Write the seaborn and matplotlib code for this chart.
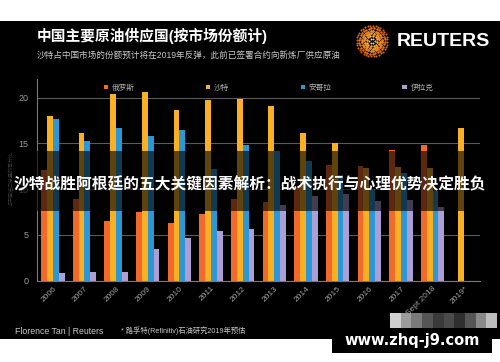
import numpy as np
import pandas as pd
import matplotlib
matplotlib.use("Agg")
import matplotlib.pyplot as plt
import seaborn as sns
from matplotlib.patches import Rectangle, Patch

# ---------------- data ----------------
years = ['2006', '2007', '2008', '2009', '2010', '2011', '2012', '2013',
         '2014', '2015', '2016', '2017', 'Sept 2018', '2019*']
russia = [12.1, 8.9, 6.5, 7.5, 6.3, 7.3, 8.9, 8.6, 10.2, 12.6, 12.5, 14.3, 14.8, np.nan]
saudi = [18.0, 16.1, 20.4, 20.6, 18.7, 19.8, 19.9, 19.05, 16.1, 15.0, 12.3, 12.4, 12.3, 16.7]
angola = [17.7, 15.3, 16.7, 15.8, 16.5, 12.2, 14.8, 14.2, 13.1, 11.5, 10.0, 11.8, 9.8, np.nan]
iraq = [0.85, 0.9, 1.0, 3.5, 4.7, 5.4, 5.7, 8.3, 9.3, 9.5, 8.7, 8.8, 8.1, np.nan]
countries = ['俄罗斯', '沙特', '安哥拉', '伊拉克']
colors = ['#F26A2B', '#FBAF22', '#2B98D6', '#AE9ED6']
yticks = [0, 5, 10, 15, 20]

title = '中国主要原油供应国(按市场份额计)'
subtitle = '沙特占中国市场的份额预计将在2019年反弹，此前已签署合约向新炼厂供应原油'
overlay_text = '沙特战胜阿根廷的五大关键因素解析：战术执行与心理优势决定胜负'
ylabel = '占中国进口总量的百分比'
source = 'Florence Tan | Reuters'
note = '* 路孚特(Refinitiv)石油研究2019年预估'
watermark = 'www.zhq-j9.com'

rows = []
for c, vals in zip(countries, [russia, saudi, angola, iraq]):
    for y, v in zip(years, vals):
        rows.append({'year': y, 'country': c, 'share': v})
df = pd.DataFrame(rows)

# ---------------- style ----------------
sns.set_theme(style='dark')
plt.rcParams['font.family'] = ['Liberation Sans', 'Noto Sans CJK SC', 'DejaVu Sans']
plt.rcParams['axes.unicode_minus'] = False

W, H = 500, 362
fig = plt.figure(figsize=(W / 100, H / 100), dpi=100, facecolor='white')

def fx(px):
    return px / W

def fy(py):
    return 1 - py / H

# black chart background
fig.add_artist(Rectangle((0, fy(339)), 1, fy(21) - fy(339), transform=fig.transFigure,
                         facecolor='black', edgecolor='none', zorder=-10))

ax = fig.add_axes([fx(37), fy(280.7), fx(480) - fx(37), fy(79.4) - fy(280.7)])
ax.set_facecolor('black')

sns.barplot(data=df, x='year', y='share', hue='country', order=years,
            hue_order=countries, palette=colors, width=0.74, gap=0,
            saturation=1, ax=ax, legend=False, linewidth=0)

ax.set_ylim(0, 22)
ax.set_xlim(-0.5, len(years) - 0.5)
ax.set_yticks(yticks)
ax.set_yticklabels([str(t) for t in yticks], color='#9a9a9a', fontsize=6.5)
ax.tick_params(axis='y', length=0, pad=6)
ax.yaxis.grid(True, color='#5a5a5a', linewidth=0.8)
ax.xaxis.grid(False)
ax.set_axisbelow(True)
ax.set_xlabel('')
ax.set_ylabel('')
ax.set_xticks(range(len(years)))
ax.set_xticklabels(years, rotation=45, ha='right', rotation_mode='anchor',
                   color='#a0a0a0', fontsize=6)
ax.tick_params(axis='x', length=0, pad=3)
ax.set_xticks(np.arange(-0.5, len(years), 1), minor=True)
ax.tick_params(axis='x', which='minor', length=3, color='#777777', width=0.6)
for s in ['top', 'right']:
    ax.spines[s].set_visible(False)
for s in ['left', 'bottom']:
    ax.spines[s].set_visible(True)
    ax.spines[s].set_color('#7a7a7a')
    ax.spines[s].set_linewidth(0.8)

# legend
handles = [Patch(facecolor=c, edgecolor='none') for c in colors]
leg = ax.legend(handles, countries, ncol=4, loc='center left',
                bbox_to_anchor=(0.145, 0.957), frameon=False,
                handlelength=0.55, handleheight=0.55, handletextpad=0.5,
                columnspacing=9.3, fontsize=5.5, labelcolor='#b0b0b0',
                borderaxespad=0)

# y label
fig.text(fx(11), fy(178), ylabel, rotation=90, color='#9a9a9a', fontsize=3.6,
         ha='center', va='center')

# titles
fig.text(fx(37), fy(36), title, color='white', fontsize=10.6, fontweight='bold',
         ha='left', va='center')
fig.text(fx(37), fy(55), subtitle, color='#c8c8c8', fontsize=6.2,
         ha='left', va='center')

# Reuters logo
lax = fig.add_axes([fx(355), fy(58), fx(34), fy(24) - fy(58)])
lax.set_xlim(-1.1, 1.1)
lax.set_ylim(-1.1, 1.1)
lax.axis('off')
for i, r in enumerate([0.18, 0.34, 0.5, 0.66, 0.82, 0.98]):
    n = 6 + 6 * i
    ang = np.linspace(0, 2 * np.pi, n, endpoint=False) + i * 0.3
    size = [2.0, 3.2, 4.0, 4.0, 3.2, 2.2][i]
    col = ['#FFD27A', '#FBB040', '#F7962A', '#F08426', '#E9731F', '#D96419'][i]
    lax.scatter(r * np.cos(ang), r * np.sin(ang), s=size, color=col, linewidths=0)
fig.text(fx(397), fy(42), 'REUTERS', color='white', fontsize=14, fontweight='bold',
         ha='left', va='center', family=['Liberation Sans', 'DejaVu Sans'])

# footer
fig.text(fx(15), fy(331), source, color='#c8c8c8', fontsize=6.3, ha='left', va='center')
fig.text(fx(121), fy(331), note, color='#c8c8c8', fontsize=5.2, ha='left', va='center')

# translucent overlay band with headline
fig.add_artist(Rectangle((0, fy(211)), 1, fy(151) - fy(211), transform=fig.transFigure,
                         facecolor='black', edgecolor='none', alpha=0.62, zorder=5))
fig.text(0.5, fy(184), overlay_text, color='white', fontsize=11.3, fontweight='bold',
         ha='center', va='center', zorder=6,
         family=['Noto Sans CJK SC', 'DejaVu Sans'])

# mosaic + watermark box
greys = ['#cfcfcf', '#9c9c9c', '#7a7a7a', '#555555', '#3a3a3a', '#4a4a4a',
         '#2f2f2f', '#555555', '#8a8a8a', '#bdbdbd']
bw = (497 - 390) / len(greys)
for k, g in enumerate(greys):
    fig.add_artist(Rectangle((fx(390 + k * bw), fy(328)), fx(bw), fy(313) - fy(328),
                             transform=fig.transFigure, facecolor=g,
                             edgecolor='none', zorder=7))
fig.add_artist(Rectangle((fx(332), fy(353)), fx(160), fy(328) - fy(353),
                         transform=fig.transFigure, facecolor='black',
                         edgecolor='none', zorder=8))
fig.text(fx(412), fy(340), watermark, color='white', fontsize=10.5, fontweight='bold',
         ha='center', va='center', zorder=9, family=['DejaVu Sans'])

fig.savefig('out.png', dpi=100, facecolor='white')
